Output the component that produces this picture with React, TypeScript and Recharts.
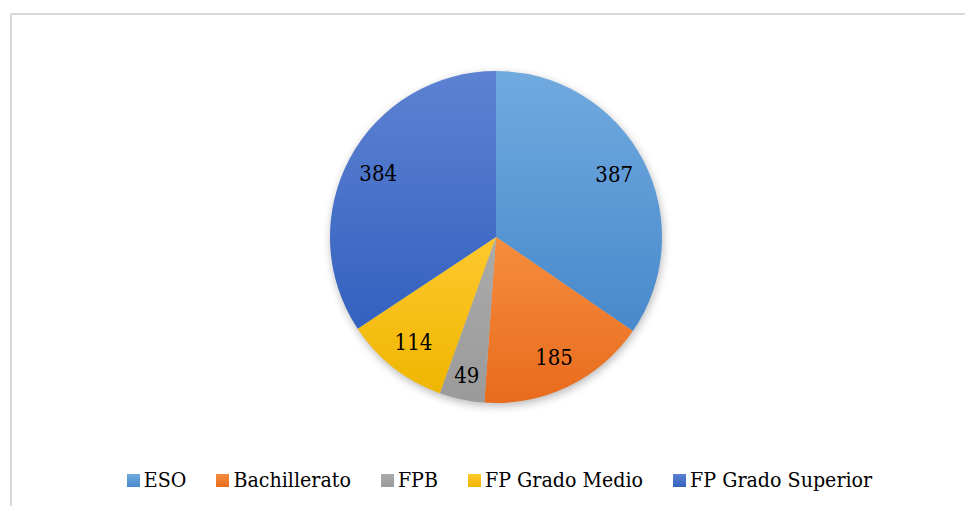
import { PieChart, Pie, Cell, Legend } from "recharts"

const categories = ["ESO", "Bachillerato", "FPB", "FP Grado Medio", "FP Grado Superior"]
const students = [387, 185, 49, 114, 384]

const topColors = ["#71aadf", "#f68d3e", "#ababab", "#ffc82e", "#5d82d2"]
const bottomColors = ["#4789cc", "#e86b1d", "#9a9a9a", "#efb600", "#3361bf"]

const data = categories.map((name, i) => ({ name, value: students[i] }))

const RAD = Math.PI / 180
const FONT = "'DejaVu Serif Condensed', 'DejaVu Serif', serif"

const renderLabel = (props: any) => {
  const { cx, cy, midAngle, outerRadius, value, percent } = props
  // small slices get pushed a bit outward, like Excel's best fit
  const r = outerRadius * (percent < 0.06 ? 0.855 : 0.805)
  const x = cx + r * Math.cos(-midAngle * RAD)
  const y = cy + r * Math.sin(-midAngle * RAD)
  return (
    <text
      x={x}
      y={y}
      fill="#000"
      style={{ fontFamily: FONT, fontSize: 22, fontStretch: "condensed" }}
      textAnchor="middle"
      dominantBaseline="central"
    >
      {value}
    </text>
  )
}

const renderLegend = () => (
  <div
    style={{
      display: "flex",
      alignItems: "center",
      justifyContent: "center",
      height: 28,
      paddingLeft: 34,
      fontFamily: FONT,
      fontStretch: "condensed",
      fontSize: 21.2,
      lineHeight: "28px",
      color: "#000",
      whiteSpace: "nowrap",
    }}
  >
    {categories.map((c, i) => (
      <div
        key={c}
        style={{ display: "flex", alignItems: "center", marginRight: i < categories.length - 1 ? 30 : 0 }}
      >
        <span
          style={{
            width: 13,
            height: 13,
            marginRight: 4,
            background: `linear-gradient(${topColors[i]}, ${bottomColors[i]})`,
          }}
        />
        <span>{c}</span>
      </div>
    ))}
  </div>
)

export default function App() {
  return (
    <div
      style={{
        position: "absolute",
        left: 0,
        top: 0,
        width: 965,
        height: 506,
        overflow: "hidden",
        background: "#fff",
      }}
    >
      <div
        style={{
          position: "absolute",
          left: 10,
          top: 13,
          width: 1000,
          height: 600,
          border: "2px solid #d9d9d9",
        }}
      />
      <div style={{ position: "absolute", left: 0, top: 0 }}>
        <PieChart width={965} height={506} margin={{ top: 0, right: 0, bottom: 0, left: 0 }}>
          <defs>
            {categories.map((c, i) => (
              <linearGradient key={c} id={`grad${i}`} x1="0" y1="0" x2="0" y2="1">
                <stop offset="0%" stopColor={topColors[i]} />
                <stop offset="100%" stopColor={bottomColors[i]} />
              </linearGradient>
            ))}
            <filter id="blur" x="-20%" y="-20%" width="140%" height="140%">
              <feGaussianBlur stdDeviation="4" />
            </filter>
          </defs>
          {/* soft shadow under the pie */}
          <Pie
            data={data}
            dataKey="value"
            cx={497}
            cy={240}
            outerRadius={166}
            startAngle={90}
            endAngle={-270}
            stroke="none"
            isAnimationActive={false}
            legendType="none"
          >
            {data.map((d) => (
              <Cell key={d.name} fill="#000" fillOpacity={0.28} filter="url(#blur)" />
            ))}
          </Pie>
          <Pie
            data={data}
            dataKey="value"
            nameKey="name"
            cx={496}
            cy={237}
            outerRadius={166}
            startAngle={90}
            endAngle={-270}
            stroke="none"
            label={renderLabel}
            labelLine={false}
            isAnimationActive={false}
          >
            {data.map((d, i) => (
              <Cell key={d.name} fill={`url(#grad${i})`} />
            ))}
          </Pie>
          <Legend
            content={renderLegend}
            wrapperStyle={{ position: "absolute", top: 466, left: 0, width: 965, bottom: "auto" }}
          />
        </PieChart>
      </div>
    </div>
  )
}
